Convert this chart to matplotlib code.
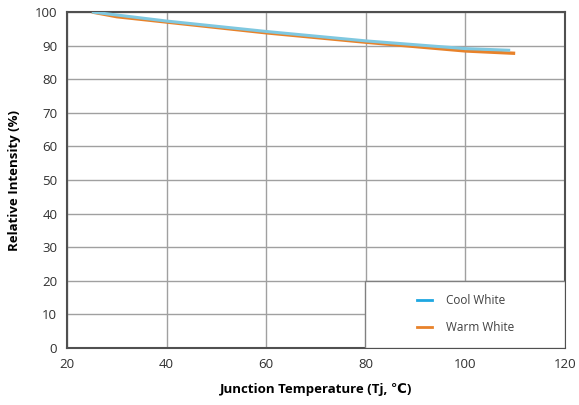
import numpy as np
import matplotlib
matplotlib.use('Agg')
import matplotlib.pyplot as plt
from matplotlib.patches import Rectangle

# 数据
temp_cool = [25, 40, 60, 80, 100, 109]
cool_white = [100, 97.3, 94.2, 91.4, 89.1, 88.6]
temp_warm = [25, 30, 40, 60, 80, 100, 110]
warm_white = [100, 98.6, 97.0, 93.8, 91.0, 88.4, 87.7]

xticks = [20, 40, 60, 80, 100, 120]
yticks = list(range(0, 101, 10))

plt.rcParams['font.family'] = ['Open Sans', 'DejaVu Sans']

fig = plt.figure(figsize=(5.79, 4.05), dpi=100)
ax = fig.add_axes([0.1157, 0.1407, 0.8601, 0.8297])

ax.plot(temp_warm, warm_white, color='#E8822A', lw=2.4, solid_capstyle='butt', zorder=3)
ax.plot(temp_cool, cool_white, color='#7FC8E0', lw=2.2, solid_capstyle='butt', zorder=4)

ax.set_xlim(20, 120)
ax.set_ylim(0, 100)
ax.set_xticks(xticks)
ax.set_yticks(yticks)
ax.grid(True, color='#A0A0A0', lw=1.0)
ax.set_axisbelow(True)
ax.tick_params(length=0, labelsize=9.5, colors='#303030', pad=7)
for s in ax.spines.values():
    s.set_color('#505050')
    s.set_linewidth(1.5)

ax.set_xlabel('Junction Temperature (Tj, ℃)', fontsize=9.5, fontweight='bold', labelpad=9)
ax.set_ylabel('Relative Intensity (%)', fontsize=9.5, fontweight='bold', labelpad=10)

# 图例框
box = Rectangle((0.598, 0), 0.402, 0.199, transform=ax.transAxes,
                facecolor='white', edgecolor='#808080', lw=1.0, zorder=5)
ax.add_patch(box)
h1, = ax.plot([], [], color='#1EA7E1', lw=2.0)
h2, = ax.plot([], [], color='#E8822A', lw=2.0)
leg = ax.legend([h1, h2], ['Cool White', 'Warm White'], frameon=False,
                loc='center', bbox_to_anchor=(0.80, 0.10), fontsize=8.5,
                handlelength=1.3, labelspacing=1.2, handletextpad=1.2)
leg.set_zorder(6)
for t in leg.get_texts():
    t.set_color('#404040')

fig.savefig('out.png', dpi=100)
